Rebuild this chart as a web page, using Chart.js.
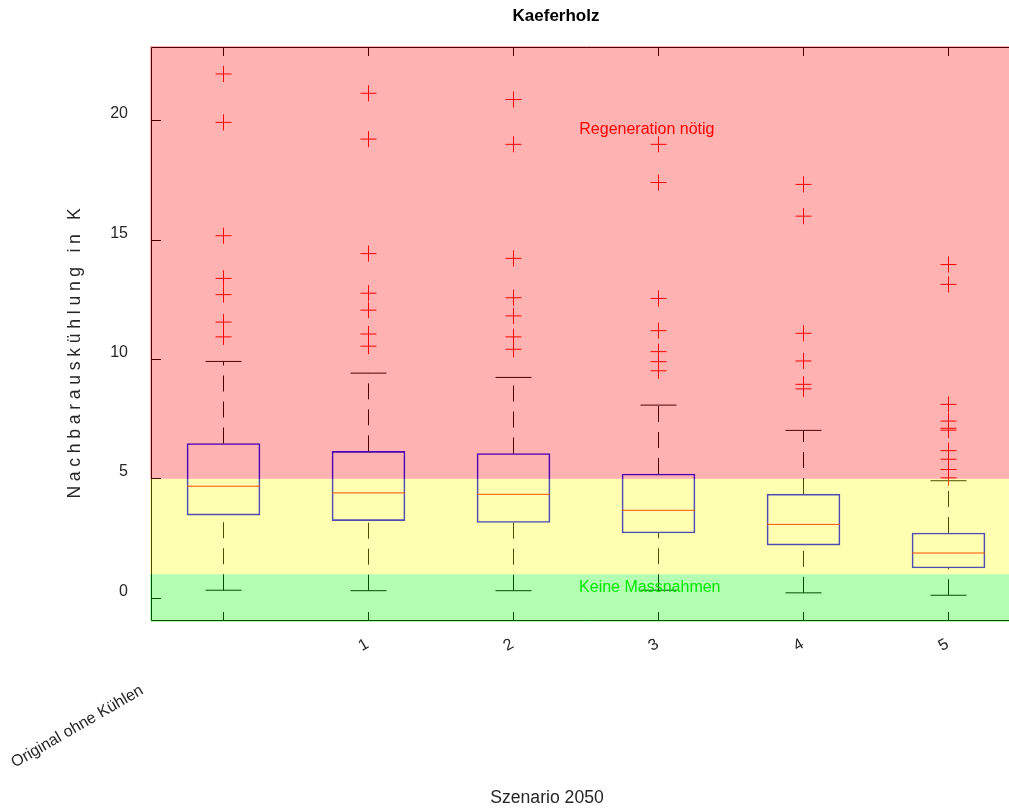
<!DOCTYPE html>
<html>
<head>
<meta charset="utf-8">
<title>Kaeferholz</title>
<script src="https://cdn.jsdelivr.net/npm/chart.js@4.4.1/dist/chart.umd.min.js"></script>
<style>
  html, body { margin: 0; padding: 0; background: #ffffff; overflow: hidden; }
  #wrap { width: 1009px; height: 809px; overflow: hidden; }
  canvas { display: block; }
</style>
</head>
<body>
<div id="wrap"><canvas id="chart" width="1021" height="809"></canvas></div>
<script>
// Scenario groups (x axis)
const categories = ['Original ohne Kühlen', '1', '2', '3', '4', '5'];

// Box statistics per scenario, neighbour cooling in K
const lowerWhisker = [0.33, 0.31, 0.31, 0.33, 0.22, 0.12];
const quartile1    = [3.48, 3.25, 3.17, 2.73, 2.22, 1.26];
const medians      = [4.69, 4.41, 4.35, 3.68, 3.09, 1.89];
const quartile3    = [6.48, 6.15, 6.06, 5.20, 4.36, 2.73];
const upperWhisker = [9.92, 9.43, 9.25, 8.09, 7.03, 4.92];

// Values beyond the whiskers
const outliers = [
  [21.97, 19.94, 15.19, 13.40, 12.72, 11.57, 10.95],
  [21.16, 19.24, 14.44, 12.78, 12.07, 11.07, 10.56],
  [20.90, 19.02, 14.24, 12.59, 11.83, 10.95, 10.43],
  [19.02, 17.42, 12.56, 11.21, 10.33, 9.91, 9.53],
  [17.34, 16.01, 11.10, 9.94, 8.96, 8.77],
  [13.98, 13.15, 8.12, 7.42, 7.12, 7.04, 6.18, 5.82, 5.39, 5.04]
];

// y axis
const yTickValues = [0, 5, 10, 15, 20];
const yLimits = [-0.96, 23.1];

// Assessment zones: below 1 K no action, above 5 K regeneration needed
const zoneLimits = [1, 5];
const zoneFills = ['rgba(0,255,0,0.3)', 'rgba(255,255,0,0.3)', 'rgba(255,0,0,0.3)'];
const zoneCaptions = ['Keine Massnahmen', '', 'Regeneration nötig'];

const FONT = '"Liberation Sans", Arial, Helvetica, sans-serif';
const TEXT = '#262626';

const xIdx = categories.map((_, i) => i + 1);

const boxData = xIdx.map((x, i) => ({ x, y: [quartile1[i], quartile3[i]] }));
const whiskerData = xIdx.flatMap((x, i) => [
  { x, y: lowerWhisker[i] }, { x, y: quartile1[i] }, { x, y: null },
  { x, y: quartile3[i] }, { x, y: upperWhisker[i] }, { x, y: null }
]);
const capData = xIdx.flatMap((x, i) => [{ x, y: lowerWhisker[i] }, { x, y: upperWhisker[i] }]);
const medianData = xIdx.map((x, i) => ({ x, y: medians[i] }));
const outlierData = xIdx.flatMap((x, i) => outliers[i].map(v => ({ x, y: v })));

function rotatedText(ctx, str, cx, cy, angle, font, color, spacing) {
  ctx.save();
  ctx.translate(cx, cy);
  ctx.rotate(angle);
  ctx.font = font;
  ctx.fillStyle = color;
  ctx.textAlign = 'center';
  ctx.textBaseline = 'middle';
  if (spacing && 'letterSpacing' in ctx) ctx.letterSpacing = spacing + 'px';
  ctx.fillText(str, 0, 0);
  ctx.restore();
}

// Axes frame, inward tick marks, zone overlay and labels
const axesDecor = {
  id: 'axesDecor',
  beforeDatasetsDraw(chart) {
    const { ctx, chartArea: a, scales: { x, y } } = chart;
    ctx.save();
    ctx.strokeStyle = '#000000';
    ctx.lineWidth = 1;
    ctx.beginPath();
    ctx.moveTo(a.right, a.top + 0.5);
    ctx.lineTo(a.left + 0.5, a.top + 0.5);
    ctx.lineTo(a.left + 0.5, a.bottom - 0.5);
    ctx.lineTo(a.right, a.bottom - 0.5);
    xIdx.forEach(v => {
      const px = Math.floor(x.getPixelForValue(v)) + 0.5;
      ctx.moveTo(px, a.bottom);
      ctx.lineTo(px, a.bottom - 9);
      ctx.moveTo(px, a.top);
      ctx.lineTo(px, a.top + 9);
    });
    yTickValues.forEach(v => {
      const py = Math.floor(y.getPixelForValue(v)) + 0.5;
      ctx.moveTo(a.left, py);
      ctx.lineTo(a.left + 10, py);
    });
    ctx.stroke();
    ctx.restore();
  },
  afterDatasetsDraw(chart) {
    const { ctx, chartArea: a, scales: { x, y } } = chart;
    const bounds = [yLimits[0], ...zoneLimits, yLimits[1]];
    ctx.save();
    for (let i = 0; i < zoneFills.length; i++) {
      const top = i === zoneFills.length - 1 ? a.top - 1 : y.getPixelForValue(bounds[i + 1]);
      const bottom = i === 0 ? a.bottom + 1 : y.getPixelForValue(bounds[i]);
      ctx.fillStyle = zoneFills[i];
      ctx.fillRect(a.left - 1, top, a.right - a.left + 1, bottom - top);
    }
    ctx.restore();
    const font = '16px ' + FONT;
    rotatedText(ctx, zoneCaptions[2], x.getPixelForValue(3.92), y.getPixelForValue(19.63), 0, font, '#ff0000');
    rotatedText(ctx, zoneCaptions[0], x.getPixelForValue(3.94), y.getPixelForValue(0.46), 0, font, '#00e600');
  },
  afterDraw(chart) {
    const { ctx, chartArea: a, scales: { x } } = chart;
    const font = '16px ' + FONT;
    const ang = 30 * Math.PI / 180;
    ctx.save();
    ctx.font = font;
    categories.forEach((label, i) => {
      const px = x.getPixelForValue(i + 1);
      const w = ctx.measureText(label).width;
      const cx = px + 4 - 1.16 * w * Math.cos(ang);
      const cy = a.bottom + 19 + 1.16 * w * Math.sin(ang);
      rotatedText(ctx, label, cx, cy, -ang, font, TEXT);
    });
    ctx.restore();
    rotatedText(ctx, 'Kaeferholz', 556, 16, 0, 'bold 17px ' + FONT, '#000000');
    rotatedText(ctx, 'Szenario 2050', 547, 798, 0, '17.6px ' + FONT, TEXT);
    rotatedText(ctx, 'Nachbarauskühlung in K', 75, 351, -Math.PI / 2, '17.6px ' + FONT, TEXT, 4.7);
  }
};

new Chart(document.getElementById('chart'), {
  type: 'scatter',
  data: {
    datasets: [
      {
        type: 'scatter', label: 'Ausreisser', data: outlierData,
        pointStyle: 'cross', pointRadius: 8, borderColor: '#ff0000', borderWidth: 1,
        backgroundColor: '#ff0000'
      },
      {
        type: 'scatter', label: 'Median', data: medianData,
        pointStyle: 'line', pointRadius: 36.5, borderColor: '#ff0000', borderWidth: 1
      },
      {
        type: 'scatter', label: 'Whisker-Enden', data: capData,
        pointStyle: 'line', pointRadius: 18, borderColor: '#000000', borderWidth: 1
      },
      {
        type: 'line', label: 'Whisker', data: whiskerData,
        borderColor: '#000000', borderWidth: 1, borderDash: [16, 10],
        pointRadius: 0, spanGaps: false, fill: false, tension: 0
      },
      {
        type: 'bar', label: 'Quartile', data: boxData,
        backgroundColor: 'rgba(0,0,0,0)', borderColor: '#0000ff', borderWidth: 1,
        borderSkipped: false, barThickness: 73
      }
    ]
  },
  options: {
    responsive: false,
    animation: false,
    events: [],
    layout: { autoPadding: false, padding: { top: 47, bottom: 188, left: 0, right: 0 } },
    plugins: { legend: { display: false }, tooltip: { enabled: false }, title: { display: false } },
    scales: {
      x: { type: 'linear', min: 0.5, max: 6.5, display: false, offset: false },
      y: {
        type: 'linear', min: yLimits[0], max: yLimits[1],
        grid: { display: false, drawTicks: false },
        border: { display: false },
        afterBuildTicks: s => { s.ticks = yTickValues.map(v => ({ value: v })); },
        afterFit: s => { s.width = 151; },
        ticks: {
          padding: 23, labelOffset: -7, color: TEXT,
          font: { family: FONT, size: 16 },
          callback: v => String(v)
        }
      }
    }
  },
  plugins: [axesDecor]
});
</script>
</body>
</html>
